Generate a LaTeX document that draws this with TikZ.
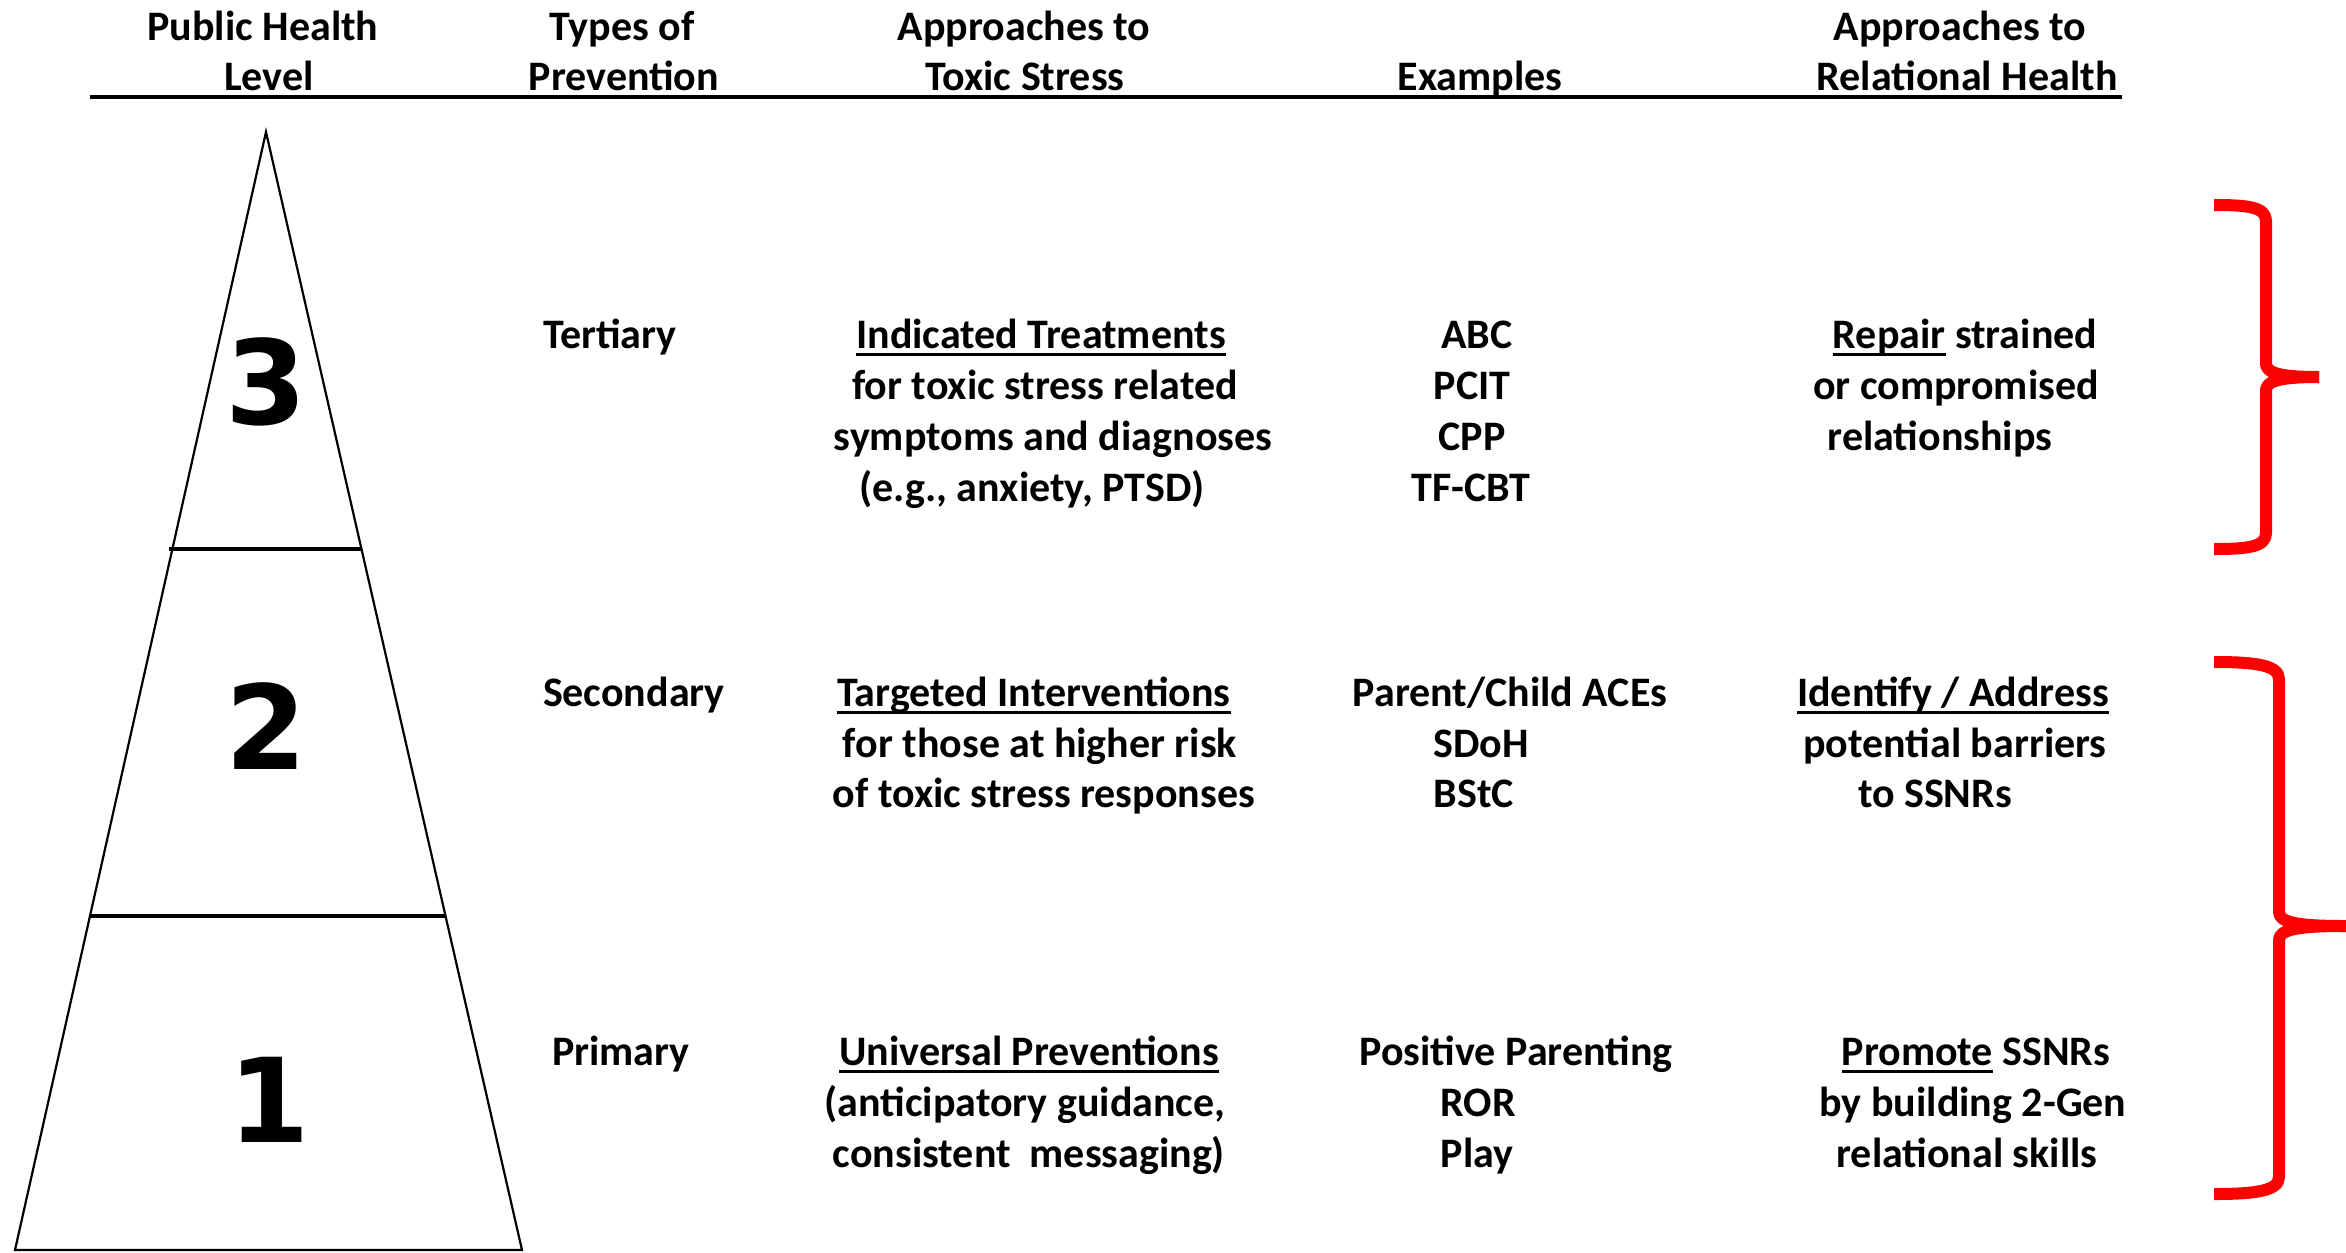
\documentclass[tikz,border=0pt]{standalone}
\usepackage{fontspec}
\setmainfont{Carlito}
\newfontfamily\digitfont{DejaVu Sans}
\newcommand{\myul}[1]{\setbox0\hbox{#1}\rlap{\rule[-8pt]{\wd0}{3pt}}\box0\relax}
\begin{document}
\begin{tikzpicture}[x=1pt,y=-1pt,
  every node/.style={inner sep=0pt, outer sep=0pt},
  lbl/.style={font=\fontsize{42}{51}\selectfont\bfseries, anchor=base},
  lblw/.style={lbl, anchor=base west},
  digit/.style={font=\fontsize{117}{130}\selectfont\digitfont\bfseries, anchor=center},
  tri/.style={line width=2.2pt, line join=miter},
  divider/.style={line width=4pt},
  rule/.style={line width=3.5pt},
  brace/.style={draw=red, line width=12pt, line join=round, line cap=butt}]
\useasboundingbox (0,0) rectangle (2346,1253);
% header
\node[lbl] (h1a) at (263,40) {Public Health};
\node[lbl] (h1b) at (269,90) {Level};
\node[lbl] (h2a) at (622,40) {Types of};
\node[lbl] (h2b) at (624,90) {Prevention};
\node[lbl] (h3a) at (1024,40) {Approaches to};
\node[lbl] (h3b) at (1025,90) {Toxic Stress};
\node[lbl] (h4) at (1480,90) {Examples};
\node[lbl] (h5a) at (1960,40) {Approaches to};
\node[lbl] (h5b) at (1967,90) {Relational Health};
\coordinate (hl) at (90,97);
\coordinate (hr) at (2122,97);
\draw[rule] (hl) -- (hr);
% triangle
\coordinate (apex) at (266,132);
\coordinate (bl) at (15,1250);
\coordinate (br) at (522,1250);
\draw[tri] (apex) -- (bl) -- (br) -- cycle;
\coordinate (d1l) at (169,549);
\coordinate (d1r) at (361,549);
\coordinate (d2l) at (91,916);
\coordinate (d2r) at (446,916);
\draw[divider] (d1l) -- (d1r);
\draw[divider] (d2l) -- (d2r);
\node[digit] (n3) at (266,382) {3};
\node[digit] (n2) at (266,726) {2};
\node[digit] (n1) at (269,1100) {1};
% types
\node[lblw] (tert) at (543,348) {Tertiary};
\node[lblw] (sec) at (543,706) {Secondary};
\node[lblw] (prim) at (552,1065) {Primary};
% row 3 (tertiary)
\node[lbl] (a1) at (1041,348) {\myul{Indicated Treatments}};
\node[lbl] (a2) at (1045,399) {for toxic stress related};
\node[lbl] (a3) at (1053,450) {symptoms and diagnoses};
\node[lbl] (a4) at (1032,501) {(e.g., anxiety, PTSD)};
\node[lbl] (e1) at (1477,348) {ABC};
\node[lbl] (e2) at (1472,399) {PCIT};
\node[lbl] (e3) at (1472,450) {CPP};
\node[lbl] (e4) at (1471,501) {TF-CBT};
\node[lbl] (r1) at (1965,348) {\myul{Repair} strained};
\node[lbl] (r2) at (1956,399) {or compromised};
\node[lbl] (r3) at (1940,450) {relationships};
% row 2 (secondary)
\node[lbl] (b1) at (1034,706) {\myul{Targeted Interventions}};
\node[lbl] (b2) at (1040,757) {for those at higher risk};
\node[lbl] (b3) at (1044,807) {of toxic stress responses};
\node[lbl] (f1) at (1510,706) {Parent/Child ACEs};
\node[lbl] (f2) at (1481,757) {SDoH};
\node[lbl] (f3) at (1474,807) {BStC};
\node[lbl] (s1) at (1953,706) {\myul{Identify / Address}};
\node[lbl] (s2) at (1955,757) {potential barriers};
\node[lbl] (s3) at (1935,807) {to SSNRs};
% row 1 (primary)
\node[lbl] (c1) at (1029,1065) {\myul{Universal Preventions}};
\node[lbl] (c2) at (1025,1116) {(anticipatory guidance,};
\node[lbl] (c3) at (1029,1167) {consistent\ \ messaging)};
\node[lbl] (g1) at (1516,1065) {Positive Parenting};
\node[lbl] (g2) at (1478,1116) {ROR};
\node[lbl] (g3) at (1477,1167) {Play};
\node[lbl] (p1) at (1976,1065) {\myul{Promote} SSNRs};
\node[lbl] (p2) at (1973,1116) {by building 2-Gen};
\node[lbl] (p3) at (1967,1167) {relational skills};
% braces
\coordinate (b1top) at (2214,205);
\coordinate (b1tip) at (2319,377);
\coordinate (b1bot) at (2214,549);
\draw[brace] (b1top) .. controls (2248,205) and (2266,207) .. (2266,221)
  -- (2266,364) .. controls (2266,374) and (2285,377) .. (b1tip);
\draw[brace] (b1tip) .. controls (2285,377) and (2266,380) .. (2266,390)
  -- (2266,533) .. controls (2266,547) and (2248,549) .. (b1bot);
\coordinate (b2top) at (2214,662);
\coordinate (b2tip) at (2346,926);
\coordinate (b2bot) at (2214,1194);
\draw[brace] (b2top) .. controls (2255,662) and (2279,665) .. (2279,679)
  -- (2279,912) .. controls (2279,923) and (2300,926) .. (b2tip);
\draw[brace] (b2tip) .. controls (2300,926) and (2279,929) .. (2279,940)
  -- (2279,1177) .. controls (2279,1191) and (2255,1194) .. (b2bot);
\end{tikzpicture}
\end{document}
